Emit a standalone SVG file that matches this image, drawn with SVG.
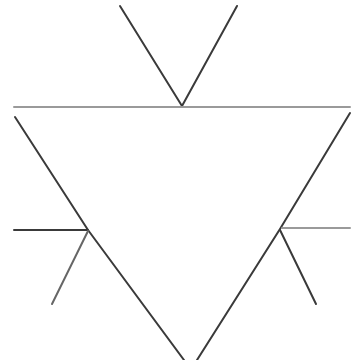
<svg xmlns="http://www.w3.org/2000/svg" width="353" height="360" viewBox="0 0 353 360">
<style>
.l{fill:none;stroke:#3a3a3a;stroke-width:2;stroke-linecap:round;stroke-linejoin:round}
.g{fill:none;stroke:#9a9a9a;stroke-width:2;stroke-linecap:round}
.m{fill:none;stroke:#666;stroke-width:2;stroke-linecap:round}
</style>
<rect width="353" height="360" fill="#fff"/>
<g id="connectors">
<polyline class="l" points="120,6 182,106 237,6"/>
<line class="g" x1="14" y1="107" x2="350" y2="107"/>
<polyline class="l" points="15,117 88,230 184,360"/>
<polyline class="l" points="350,113 280,229 197,360"/>
<line class="l" x1="14" y1="230" x2="88" y2="230"/>
<line class="m" x1="88" y1="231" x2="52" y2="304"/>
<line class="g" x1="282" y1="228" x2="350" y2="228"/>
<line class="l" x1="280" y1="230" x2="316" y2="304"/>
</g>
</svg>
